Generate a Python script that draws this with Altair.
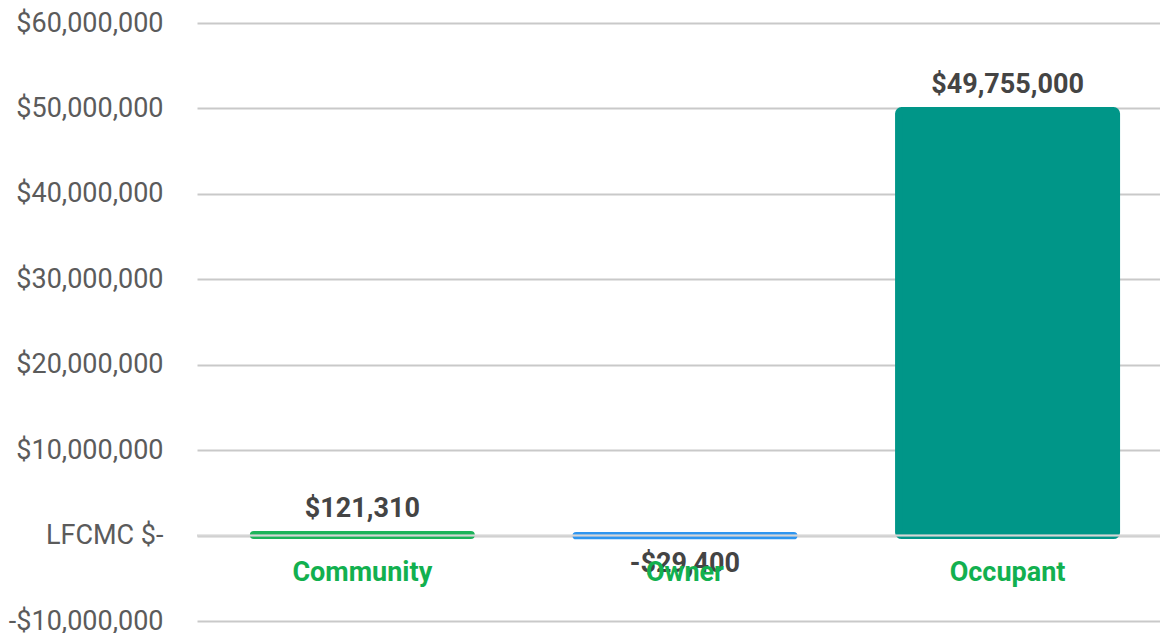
import altair as alt
import pandas as pd

categories = ["Community", "Owner", "Occupant"]
values = [121310, -29400, 49755000]
bar_colors = ["#1db35a", "#2f96f0", "#009688"]
tick_values = [-10000000, 0, 10000000, 20000000, 30000000, 40000000, 50000000, 60000000]


def money(v):
    return f"${v:,}" if v >= 0 else f"-${-v:,}"


df = pd.DataFrame({
    "category": categories,
    "idx": list(range(len(categories))),
    "value": values,
    "label": [money(v) for v in values],
    "zero": [0] * len(values),
})

FONT = "Roboto"
FS = 27

x = alt.X("idx:Q", axis=None, scale=alt.Scale(domain=[-0.497, 2.457], nice=False, zero=False))
y_scale = alt.Scale(domain=[-10000000, 60000000], nice=False, zero=False)

base = alt.Chart(df)

bars = base.mark_bar(size=218, strokeWidth=7, cornerRadius=3).encode(
    x=x,
    y=alt.Y("value:Q", scale=y_scale, title=None,
            axis=alt.Axis(values=tick_values, domain=False, ticks=False,
                          labelPadding=34, labelFontSize=FS, labelFont=FONT,
                          labelColor="#5b5b5b", gridColor="#c9c9c9", gridWidth=2,
                          labelExpr="datum.value == 0 ? 'LFCMC $-' : (datum.value < 0 ? '-$' + format(-datum.value, ',') : '$' + format(datum.value, ','))")),
    y2=alt.Y2("zero:Q"),
    color=alt.Color("category:N", scale=alt.Scale(domain=categories, range=bar_colors), legend=None),
    stroke=alt.Stroke("category:N", scale=alt.Scale(domain=categories, range=bar_colors), legend=None),
)

zero_rule = base.mark_rule(color="#d6d6d6", strokeWidth=1.5).encode(
    y=alt.Y("zero:Q", scale=y_scale),
)

pos_labels = base.transform_filter("datum.value >= 0").mark_text(
    font=FONT, fontSize=FS, fontWeight="bold", color="#444444", baseline="middle", dy=-26
).encode(x=x, y=alt.Y("value:Q", scale=y_scale), text="label:N")

neg_labels = base.transform_filter("datum.value < 0").mark_text(
    font=FONT, fontSize=FS, fontWeight="bold", color="#444444", baseline="middle", dy=28
).encode(x=x, y=alt.Y("value:Q", scale=y_scale), text="label:N")

cat_labels = base.mark_text(
    font=FONT, fontSize=FS, fontWeight="bold", color="#12b04f", baseline="middle", dy=37
).encode(x=x, y=alt.Y("zero:Q", scale=y_scale), text="category:N")

chart = alt.layer(bars, zero_rule, pos_labels, neg_labels, cat_labels).properties(
    width=963,
    height=598,
    autosize=alt.AutoSizeParams(type="none"),
    padding={"left": 189, "top": 15, "right": 0, "bottom": 12},
).configure_view(stroke=None)

chart.save("out.html", embed_options={"renderer": "svg", "actions": False})
